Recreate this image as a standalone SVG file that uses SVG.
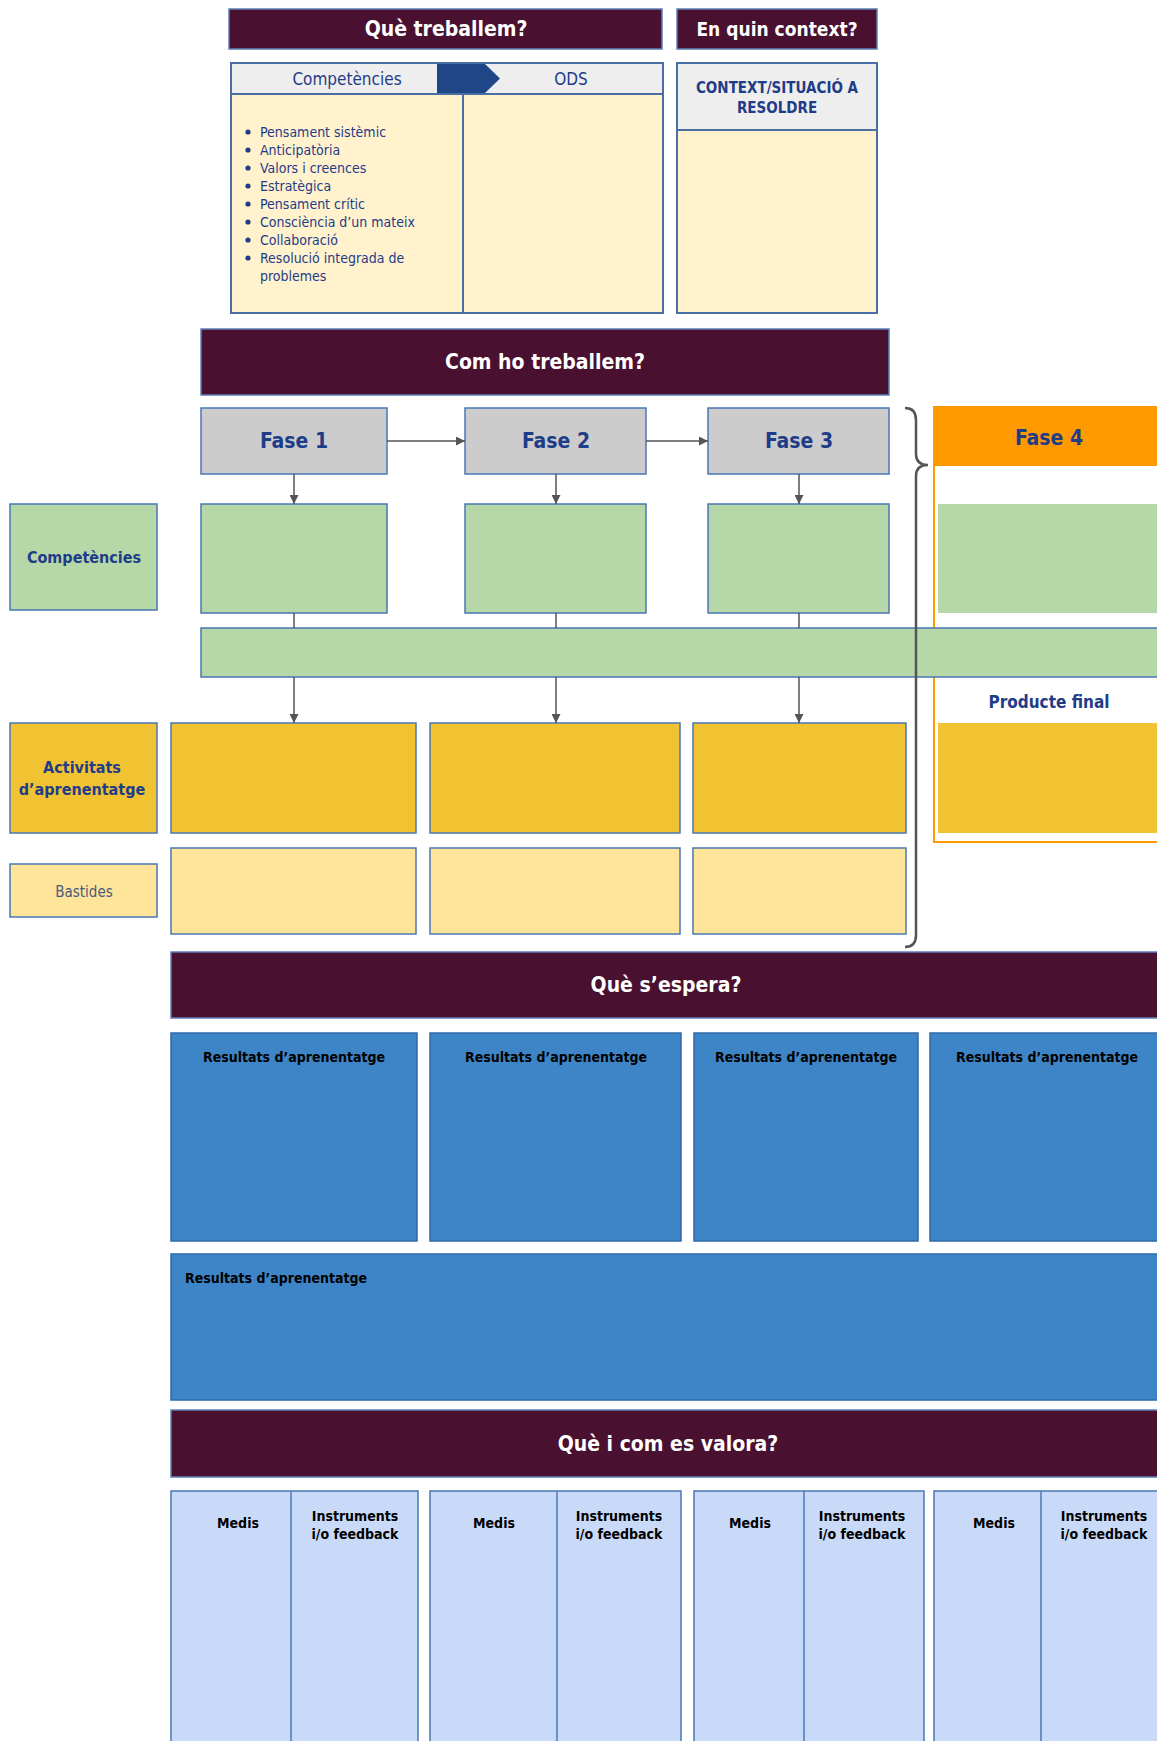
<svg xmlns="http://www.w3.org/2000/svg" width="1157" height="1741" viewBox="0 0 1157 1741">
<style>
text{font-family:"DejaVu Sans Condensed","Liberation Sans",sans-serif}
.hdr{fill:#4a1030;stroke:#5b7fb5;stroke-width:1.5}
.ht{fill:#fff;font-weight:bold;text-anchor:middle}
.cell{fill:#fff2cc;stroke:#4a6fa5;stroke-width:2}
.th{fill:#eeeeee;stroke:#4a6fa5;stroke-width:2}
.db{fill:#1f3c88}
.fase{fill:#cccccc;stroke:#4a77b4;stroke-width:1.5}
.grn{fill:#b6d7a8;stroke:#4a77b4;stroke-width:1.5}
.gold{fill:#f1c232;stroke:#4a77b4;stroke-width:1.5}
.ly{fill:#ffe599;stroke:#4a77b4;stroke-width:1.5}
.blue{fill:#3d85c6;stroke:#2f6aa8;stroke-width:1.5}
.lb{fill:#c9daf8;stroke:#4a77b4;stroke-width:1.5}
.bk{fill:#000;font-weight:bold;font-size:14px}
.mid{text-anchor:middle}
.con{stroke:#555;stroke-width:1.5;fill:none}
</style>
<defs>
<marker id="ah" viewBox="0 0 10 10" refX="10" refY="5" markerWidth="9" markerHeight="9" orient="auto" markerUnits="userSpaceOnUse"><path d="M0,0 L10,5 L0,10 z" fill="#555"/></marker>
</defs>

<g id="hdr-que-treballem">
<rect class="hdr" x="229" y="9" width="433" height="40"/>
<text class="ht" x="446" y="36" font-size="21">Què treballem?</text>
</g>
<g id="hdr-context">
<rect class="hdr" x="677" y="9" width="200" height="40"/>
<text class="ht" x="777" y="36" font-size="19">En quin context?</text>
</g>

<g id="table-comp-ods">
<rect class="cell" x="231" y="63" width="432" height="250"/>
<rect class="th" x="231" y="63" width="432" height="31"/>
<line x1="463" y1="94" x2="463" y2="313" stroke="#4a6fa5" stroke-width="2"/>
<path d="M437,64 L485,64 L500,78.5 L485,93 L437,93 z" fill="#1f4788"/>
<text class="db mid" x="347" y="85" font-size="17">Competències</text>
<text class="db mid" x="571" y="85" font-size="17">ODS</text>
<g class="db" font-size="14">
<circle cx="248" cy="132" r="2.6"/><text x="260" y="137">Pensament sistèmic</text>
<circle cx="248" cy="150" r="2.6"/><text x="260" y="155">Anticipatòria</text>
<circle cx="248" cy="168" r="2.6"/><text x="260" y="173">Valors i creences</text>
<circle cx="248" cy="186" r="2.6"/><text x="260" y="191">Estratègica</text>
<circle cx="248" cy="204" r="2.6"/><text x="260" y="209">Pensament crític</text>
<circle cx="248" cy="222" r="2.6"/><text x="260" y="227">Consciència d’un mateix</text>
<circle cx="248" cy="240" r="2.6"/><text x="260" y="245">Collaboració</text>
<circle cx="248" cy="258" r="2.6"/><text x="260" y="263">Resolució integrada de</text>
<text x="260" y="281">problemes</text>
</g>
</g>

<g id="table-context">
<rect class="cell" x="677" y="63" width="200" height="250"/>
<rect class="th" x="677" y="63" width="200" height="67"/>
<text class="db mid" x="777" y="93" font-size="15" font-weight="bold">CONTEXT/SITUACIÓ A</text>
<text class="db mid" x="777" y="113" font-size="15" font-weight="bold">RESOLDRE</text>
</g>

<g id="hdr-com">
<rect class="hdr" x="201" y="329" width="688" height="66"/>
<text class="ht" x="545" y="369" font-size="21">Com ho treballem?</text>
</g>

<g id="fase1"><rect class="fase" x="201" y="408" width="186" height="66"/><text class="db mid" x="294" y="448" font-size="21" font-weight="bold">Fase 1</text></g>
<g id="fase2"><rect class="fase" x="465" y="408" width="181" height="66"/><text class="db mid" x="556" y="448" font-size="21" font-weight="bold">Fase 2</text></g>
<g id="fase3"><rect class="fase" x="708" y="408" width="181" height="66"/><text class="db mid" x="799" y="448" font-size="21" font-weight="bold">Fase 3</text></g>

<g id="fase4">
<rect x="934" y="407" width="230" height="435" fill="none" stroke="#ff9900" stroke-width="2"/>
<rect x="933" y="406" width="230" height="60" fill="#ff9900"/>
<text class="db mid" x="1049" y="445" font-size="21" font-weight="bold">Fase 4</text>
<rect x="938" y="504" width="225" height="109" fill="#b6d7a8"/>
<text class="db mid" x="1049" y="708" font-size="17" font-weight="bold">Producte final</text>
<rect x="938" y="723" width="225" height="110" fill="#f1c232"/>
</g>

<g id="label-competencies"><rect class="grn" x="10" y="504" width="147" height="106"/><text class="db mid" x="84" y="563" font-size="16" font-weight="bold">Competències</text></g>
<g id="comp1"><rect class="grn" x="201" y="504" width="186" height="109"/></g>
<g id="comp2"><rect class="grn" x="465" y="504" width="181" height="109"/></g>
<g id="comp3"><rect class="grn" x="708" y="504" width="181" height="109"/></g>

<g id="comp-bar"><rect class="grn" x="201" y="628" width="970" height="49"/></g>

<g id="label-activitats"><rect class="gold" x="10" y="723" width="147" height="110"/>
<text class="db mid" x="82" y="773" font-size="16" font-weight="bold">Activitats</text>
<text class="db mid" x="82" y="795" font-size="16" font-weight="bold">d’aprenentatge</text></g>
<g id="act1"><rect class="gold" x="171" y="723" width="245" height="110"/></g>
<g id="act2"><rect class="gold" x="430" y="723" width="250" height="110"/></g>
<g id="act3"><rect class="gold" x="693" y="723" width="213" height="110"/></g>

<g id="label-bastides"><rect class="ly" x="10" y="864" width="147" height="53"/>
<text class="mid" x="84" y="897" font-size="15" fill="#4a5a80">Bastides</text></g>
<g id="bast1"><rect class="ly" x="171" y="848" width="245" height="86"/></g>
<g id="bast2"><rect class="ly" x="430" y="848" width="250" height="86"/></g>
<g id="bast3"><rect class="ly" x="693" y="848" width="213" height="86"/></g>

<g id="connectors">
<line class="con" x1="387" y1="441" x2="465" y2="441" marker-end="url(#ah)"/>
<line class="con" x1="646" y1="441" x2="708" y2="441" marker-end="url(#ah)"/>
<line class="con" x1="294" y1="474" x2="294" y2="504" marker-end="url(#ah)"/>
<line class="con" x1="556" y1="474" x2="556" y2="504" marker-end="url(#ah)"/>
<line class="con" x1="799" y1="474" x2="799" y2="504" marker-end="url(#ah)"/>
<line class="con" x1="294" y1="613" x2="294" y2="628"/>
<line class="con" x1="556" y1="613" x2="556" y2="628"/>
<line class="con" x1="799" y1="613" x2="799" y2="628"/>
<line class="con" x1="294" y1="677" x2="294" y2="723" marker-end="url(#ah)"/>
<line class="con" x1="556" y1="677" x2="556" y2="723" marker-end="url(#ah)"/>
<line class="con" x1="799" y1="677" x2="799" y2="723" marker-end="url(#ah)"/>
</g>

<g id="brace">
<path d="M905,408 Q916,408 916,420 L916,454 Q916,465 928,465 Q916,465 916,476 L916,935 Q916,947 905,947" fill="none" stroke="#555" stroke-width="2.5"/>
</g>

<g id="hdr-espera">
<rect class="hdr" x="171" y="952" width="1000" height="66"/>
<text class="ht" x="666" y="992" font-size="21">Què s’espera?</text>
</g>

<g id="res1"><rect class="blue" x="171" y="1033" width="246" height="208"/><text class="bk mid" x="294" y="1062">Resultats d’aprenentatge</text></g>
<g id="res2"><rect class="blue" x="430" y="1033" width="251" height="208"/><text class="bk mid" x="556" y="1062">Resultats d’aprenentatge</text></g>
<g id="res3"><rect class="blue" x="694" y="1033" width="224" height="208"/><text class="bk mid" x="806" y="1062">Resultats d’aprenentatge</text></g>
<g id="res4"><rect class="blue" x="930" y="1033" width="240" height="208"/><text class="bk mid" x="1047" y="1062">Resultats d’aprenentatge</text></g>
<g id="res-wide"><rect class="blue" x="171" y="1254" width="1000" height="146"/><text class="bk" x="185" y="1283">Resultats d’aprenentatge</text></g>

<g id="hdr-valora">
<rect class="hdr" x="171" y="1410" width="1000" height="67"/>
<text class="ht" x="668" y="1451" font-size="21">Què i com es valora?</text>
</g>

<g id="val1"><rect class="lb" x="171" y="1491" width="247" height="260"/><line x1="291" y1="1491" x2="291" y2="1741" stroke="#4a77b4" stroke-width="1.5"/>
<text class="bk mid" x="238" y="1528">Medis</text><text class="bk mid" x="355" y="1521">Instruments</text><text class="bk mid" x="355" y="1539">i/o feedback</text></g>
<g id="val2"><rect class="lb" x="430" y="1491" width="251" height="260"/><line x1="557" y1="1491" x2="557" y2="1741" stroke="#4a77b4" stroke-width="1.5"/>
<text class="bk mid" x="494" y="1528">Medis</text><text class="bk mid" x="619" y="1521">Instruments</text><text class="bk mid" x="619" y="1539">i/o feedback</text></g>
<g id="val3"><rect class="lb" x="694" y="1491" width="230" height="260"/><line x1="804" y1="1491" x2="804" y2="1741" stroke="#4a77b4" stroke-width="1.5"/>
<text class="bk mid" x="750" y="1528">Medis</text><text class="bk mid" x="862" y="1521">Instruments</text><text class="bk mid" x="862" y="1539">i/o feedback</text></g>
<g id="val4"><rect class="lb" x="934" y="1491" width="236" height="260"/><line x1="1041" y1="1491" x2="1041" y2="1741" stroke="#4a77b4" stroke-width="1.5"/>
<text class="bk mid" x="994" y="1528">Medis</text><text class="bk mid" x="1104" y="1521">Instruments</text><text class="bk mid" x="1104" y="1539">i/o feedback</text></g>
</svg>
